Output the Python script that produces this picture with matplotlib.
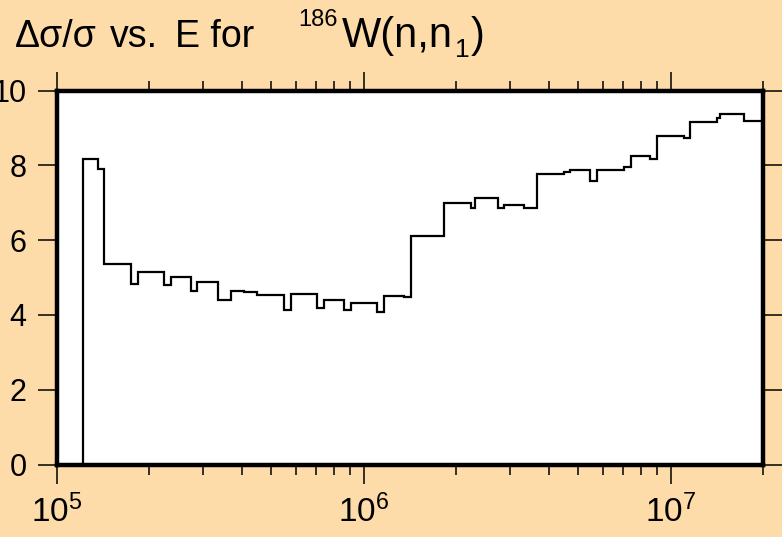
import numpy as np
import matplotlib
matplotlib.use("Agg")
import matplotlib.pyplot as plt
from matplotlib.ticker import LogLocator, NullLocator, FixedLocator

plt.rcParams['font.family'] = ['Liberation Sans', 'DejaVu Sans']
plt.rcParams['mathtext.fontset'] = 'custom'
plt.rcParams['mathtext.rm'] = 'Liberation Sans'
plt.rcParams['mathtext.it'] = 'Liberation Sans:italic'

# bin edges (eV) and relative uncertainty (%)
edges = [1.22e5, 1.357e5, 1.42e5, 1.74e5, 1.83e5, 2.24e5, 2.35e5, 2.74e5, 2.87e5,
         3.34e5, 3.69e5, 4.06e5, 4.49e5, 5.50e5, 5.77e5, 7.06e5, 7.41e5, 8.63e5,
         9.05e5, 1.105e6, 1.16e6, 1.35e6, 1.42e6, 1.72e6, 1.82e6, 2.23e6, 2.30e6,
         2.73e6, 2.86e6, 3.32e6, 3.68e6, 4.48e6, 4.71e6, 5.47e6, 5.75e6, 7.05e6,
         7.41e6, 8.59e6, 9.05e6, 1.105e7, 1.16e7, 1.42e7, 1.45e7, 1.73e7, 2.0e7]
vals = [8.16, 7.91, 5.36, 4.83, 5.14, 4.80, 5.01, 4.64, 4.89, 4.41, 4.64, 4.60,
        4.53, 4.13, 4.55, 4.18, 4.40, 4.13, 4.31, 4.09, 4.51, 4.48, 6.12, 6.10,
        6.99, 6.85, 7.13, 6.86, 6.94, 6.85, 7.76, 7.83, 7.87, 7.58, 7.87, 7.95,
        8.24, 8.17, 8.79, 8.74, 9.16, 9.26, 9.37, 9.18]
yticks = [0, 2, 4, 6, 8, 10]

bg = '#fddcaa'
W, H = 782, 537
fig = plt.figure(figsize=(W/100, H/100), dpi=100, facecolor=bg)
ax = fig.add_axes([57/W, 1 - 464.5/H, 706/W, 374/H])
ax.set_facecolor('white')

ax.stairs(vals, edges, baseline=0, color='black', lw=1.6)

ax.set_xscale('log')
ax.set_xlim(1e5, 2e7)
ax.set_ylim(0, 10)
ax.yaxis.set_major_locator(FixedLocator(yticks))
ax.yaxis.set_minor_locator(NullLocator())
ax.xaxis.set_major_locator(LogLocator(base=10))
ax.xaxis.set_minor_locator(LogLocator(base=10, subs=np.arange(2, 10)))

for s in ax.spines.values():
    s.set_linewidth(3.2)
    s.set_color('black')

ax.tick_params(which='both', direction='out', top=True, right=True,
               labeltop=False, labelright=False, width=1.1, color='black')
ax.tick_params(which='major', length=14)
ax.tick_params(which='minor', length=7)
ax.tick_params(axis='y', labelsize=22, pad=8)
ax.tick_params(axis='x', labelsize=24, pad=8)

# title, pieced together so the word spacing follows the original
base = 1 - 47/H
for word, xp in [('Δσ/σ', 15), ('vs.', 110), ('E for', 175)]:
    fig.text(xp/W, base, word, fontsize=27, ha='left', va='baseline')
fig.text(298/W, 1 - 26/H, '186', fontsize=17, ha='left', va='baseline')
fig.text(342/W, base, 'W(n,n', fontsize=30, ha='left', va='baseline')
fig.text(455/W, 1 - 57/H, '1', fontsize=19, ha='left', va='baseline')
fig.text(471/W, base, ')', fontsize=30, ha='left', va='baseline')

fig.savefig('out.png', dpi=100, facecolor=bg)
